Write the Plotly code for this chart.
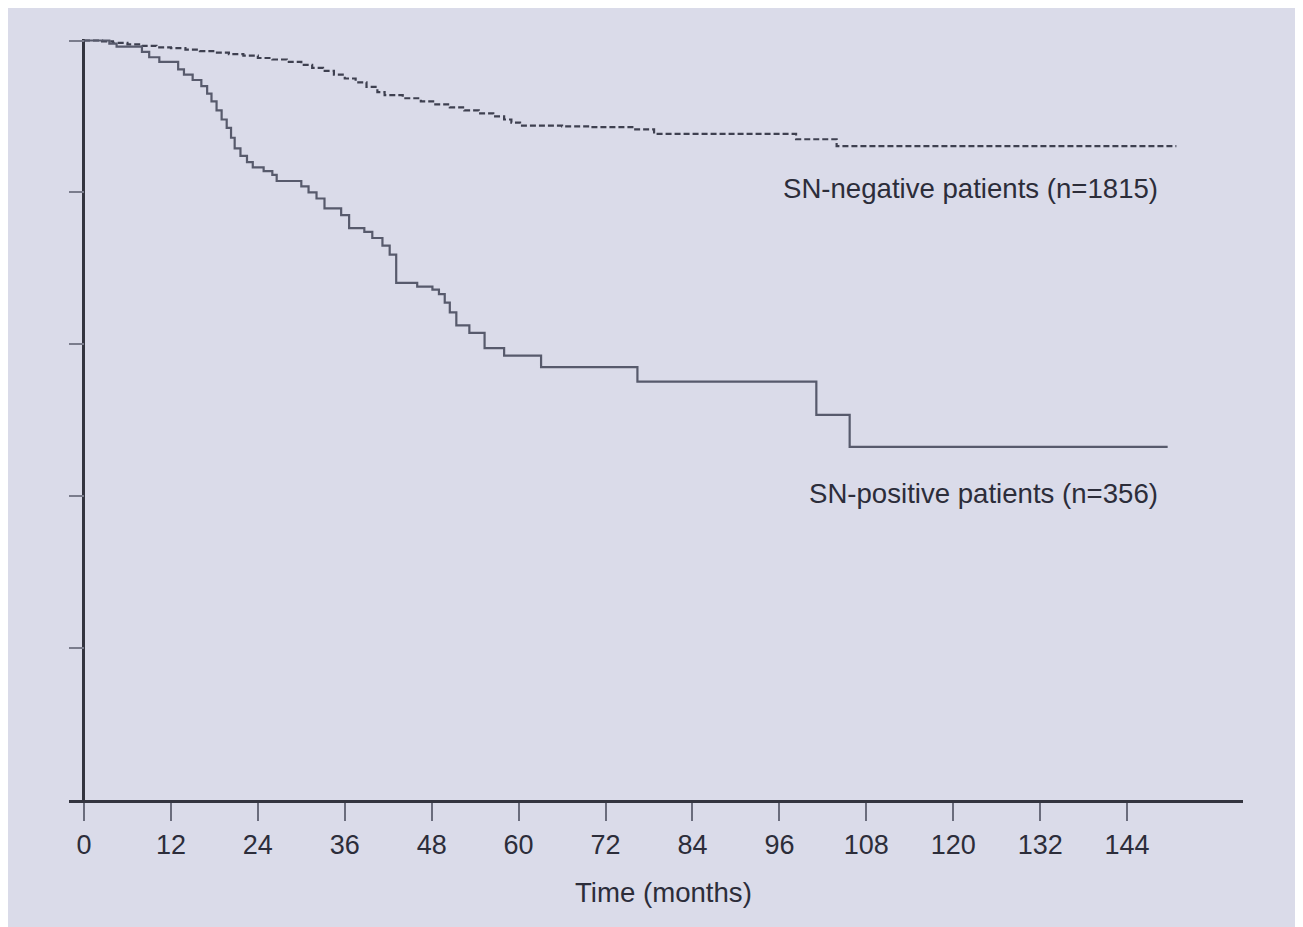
import plotly.graph_objects as go

# Kaplan-Meier estimates
pos_time = [0, 3.5, 4.5, 8.0, 9.0, 10.4, 13.0, 13.8, 15.0, 16.2, 17.0, 17.6, 18.3, 19.0, 19.7,
            20.3, 20.8, 21.6, 22.5, 23.3, 24.8, 26.0, 26.6, 30.0, 31.0, 32.1, 33.2, 35.5, 36.6,
            38.7, 39.8, 41.2, 42.2, 43.1, 46.0, 48.1, 49.0, 49.8, 50.5, 51.4, 53.2, 55.3, 58.0,
            63.1, 76.4, 101.1, 105.7, 149.6]
pos_surv = [1.0, 0.996, 0.992, 0.985, 0.978, 0.972, 0.962, 0.955, 0.948, 0.940, 0.930, 0.920,
            0.908, 0.896, 0.885, 0.872, 0.858, 0.848, 0.840, 0.833, 0.828, 0.823, 0.815, 0.808,
            0.800, 0.792, 0.779, 0.770, 0.753, 0.748, 0.740, 0.730, 0.718, 0.681, 0.676, 0.672,
            0.666, 0.655, 0.642, 0.625, 0.615, 0.595, 0.585, 0.570, 0.551, 0.507, 0.465, 0.465]

neg_time = [0, 2.5, 4, 6, 8, 10, 12, 14, 16, 18, 20, 22, 24, 26, 28, 30, 31.5, 33, 34.5, 36,
            37.5, 39, 40.5, 41.5, 44, 46.5, 48.5, 50.5, 52.5, 54.5, 56.5, 58, 59, 60.2, 66, 70,
            75.7, 78.7, 98.3, 103.9, 150.8]
neg_surv = [1.0, 0.999, 0.997, 0.995, 0.993, 0.991, 0.990, 0.988, 0.986, 0.984, 0.982, 0.980,
            0.977, 0.975, 0.972, 0.968, 0.964, 0.960, 0.955, 0.950, 0.945, 0.939, 0.932, 0.928,
            0.924, 0.920, 0.916, 0.912, 0.908, 0.904, 0.900, 0.896, 0.892, 0.888, 0.887, 0.886,
            0.883, 0.877, 0.870, 0.861, 0.861]

x_ticks = [0, 12, 24, 36, 48, 60, 72, 84, 96, 108, 120, 132, 144]
y_ticks = [0, 0.2, 0.4, 0.6, 0.8, 1.0]

labels = ["SN-negative patients (n=1815)", "SN-positive patients (n=356)"]
label_pos = [(148.6, 0.8055), (148.6, 0.4034)]
x_title = "Time (months)"

BG = "#dadbe9"
TXT = "#2c2d3a"
FONT = "Liberation Sans, Arial, sans-serif"

fig = go.Figure()
fig.add_trace(go.Scatter(x=neg_time, y=neg_surv, mode="lines", line_shape="hv",
                         line=dict(color="#3e4050", width=2.2, dash="6px,3px"),
                         showlegend=False, hoverinfo="skip"))
fig.add_trace(go.Scatter(x=pos_time, y=pos_surv, mode="lines", line_shape="hv",
                         line=dict(color="#575a6c", width=2.2),
                         showlegend=False, hoverinfo="skip"))

for txt, (lx, ly) in zip(labels, label_pos):
    fig.add_annotation(x=lx, y=ly, xref="x", yref="y", text=txt, showarrow=False,
                       xanchor="right", yanchor="middle",
                       font=dict(family=FONT, size=27.6, color=TXT))

fig.add_annotation(x=80, y=-0.122, xref="x", yref="paper", text=x_title, showarrow=False,
                   xanchor="center", yanchor="middle",
                   font=dict(family=FONT, size=27.6, color=TXT))

fig.update_layout(
    width=1295, height=919,
    margin=dict(l=61, r=60, t=31, b=127),
    paper_bgcolor=BG, plot_bgcolor=BG,
    font=dict(family=FONT, size=27, color=TXT),
    showlegend=False,
)
fig.update_xaxes(range=[-2.07, 160], tickvals=x_ticks, ticktext=[str(v) for v in x_ticks],
                 ticks="outside", ticklen=18, tickwidth=2, tickcolor="#6a6c7c",
                 showline=True, linecolor="#33343f", linewidth=3,
                 zeroline=True, zerolinecolor="#33343f", zerolinewidth=3,
                 showgrid=False, tickfont=dict(family=FONT, size=27, color=TXT),
                 ticklabelstandoff=1)
fig.update_yaxes(range=[0, 1.002], tickvals=y_ticks, showticklabels=False,
                 ticks="inside", ticklen=15, tickwidth=2, tickcolor="#7a7c8c",
                 showline=False, zeroline=False, showgrid=False)

fig.write_html("out.html")
